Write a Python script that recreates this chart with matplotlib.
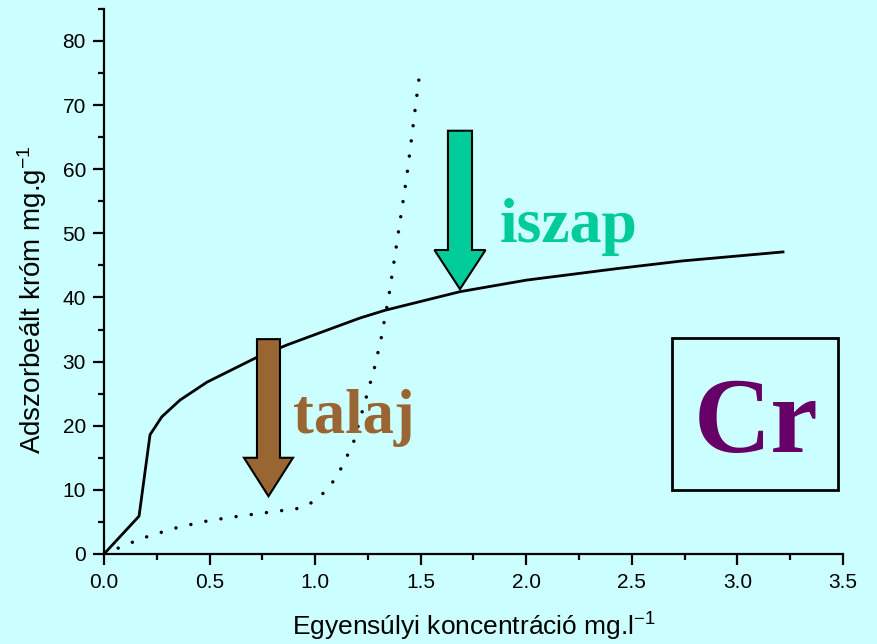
import matplotlib
matplotlib.use("Agg")
import matplotlib.pyplot as plt
from matplotlib.patches import Polygon, Rectangle
from matplotlib.ticker import MultipleLocator

plt.rcParams['font.family'] = ['Liberation Sans', 'DejaVu Sans']
plt.rcParams['mathtext.default'] = 'regular'

# iszap (sludge) isotherm - solid line
iszap_x = [0, 0.166, 0.218, 0.274, 0.36, 0.488, 0.72, 0.867, 1.056, 1.213,
           1.331, 1.686, 2.0, 2.43, 2.74, 3.216]
iszap_y = [0, 5.9, 18.6, 21.4, 24.0, 26.8, 30.6, 32.6, 34.9, 36.8,
           38.0, 40.9, 42.7, 44.5, 45.7, 47.1]

# talaj (soil) isotherm - dotted line
talaj_x = [0, 0.147, 0.213, 0.355, 0.497, 0.64, 0.78, 0.92, 0.99, 1.06,
           1.11, 1.18, 1.24, 1.28, 1.312, 1.35, 1.435, 1.497]
talaj_y = [0, 2.0, 2.8, 4.2, 5.2, 5.9, 6.5, 7.1, 8.1, 10.1,
           12.5, 17.2, 24.2, 28.9, 33.5, 40.4, 59.1, 75.5]

bg = '#CCFFFF'
green = '#00CC99'
brown = '#996633'
purple = '#660066'

fig = plt.figure(figsize=(8.77, 6.44), dpi=100, facecolor=bg)
ax = fig.add_axes([0.1186, 0.1398, 0.8426, 0.8464])
ax.set_facecolor(bg)

ax.plot(iszap_x, iszap_y, color='black', lw=2.0, solid_joinstyle='round')
ax.plot(talaj_x, talaj_y, color='black', lw=2.5,
        linestyle=(0, (0.01, 4.4)), dash_capstyle='round')

ax.set_xlim(0, 3.5)
ax.set_ylim(0, 85)
ax.xaxis.set_major_locator(MultipleLocator(0.5))
ax.xaxis.set_minor_locator(MultipleLocator(0.25))
ax.yaxis.set_major_locator(MultipleLocator(10))
ax.yaxis.set_minor_locator(MultipleLocator(5))
ax.set_yticks([0, 10, 20, 30, 40, 50, 60, 70, 80])
ax.xaxis.set_major_formatter(lambda v, p: f'{v:.1f}')

for s in ['top', 'right']:
    ax.spines[s].set_visible(False)
for s in ['left', 'bottom']:
    ax.spines[s].set_linewidth(1.6)
ax.tick_params(which='major', direction='out', length=8, width=1.6,
               labelsize=15, color='black')
ax.tick_params(which='minor', direction='out', length=4.5, width=1.6)
ax.tick_params(axis='y', pad=5)
ax.tick_params(axis='x', pad=6)

ax.set_xlabel('Egyensúlyi koncentráció mg.l$^{-1}$', fontsize=19, labelpad=13)
ax.set_ylabel('Adszorbeált króm mg.g$^{-1}$', fontsize=20, labelpad=10)
ax.yaxis.label.set_y(0.466)


def down_arrow(xc, top, neck, tip, shaft_w, head_w, color):
    pts = [(xc - shaft_w / 2, top), (xc + shaft_w / 2, top),
           (xc + shaft_w / 2, neck), (xc + head_w / 2, neck),
           (xc, tip), (xc - head_w / 2, neck), (xc - shaft_w / 2, neck)]
    ax.add_patch(Polygon(pts, closed=True, facecolor=color,
                         edgecolor='black', lw=1.5, zorder=4))


down_arrow(1.686, 66.0, 47.4, 41.3, 0.114, 0.242, green)
down_arrow(0.779, 33.5, 15.0, 9.0, 0.109, 0.232, brown)

serif = ['Liberation Serif', 'DejaVu Serif']
ax.text(1.876, 48.7, 'iszap', color=green, fontsize=46, fontweight='bold',
        family=serif, va='baseline', ha='left', zorder=5)
ax.text(0.895, 18.9, 'talaj', color=brown, fontsize=45, fontweight='bold',
        family=serif, va='baseline', ha='left', zorder=5)

ax.add_patch(Rectangle((2.691, 10.0), 3.477 - 2.691, 33.7 - 10.0,
                       facecolor='none', edgecolor='black', lw=2, zorder=4))
ax.text(3.087, 15.9, 'Cr', color=purple, fontsize=77, fontweight='bold',
        family=serif, va='baseline', ha='center', zorder=5)

fig.savefig('out.png', dpi=100, facecolor=bg)
